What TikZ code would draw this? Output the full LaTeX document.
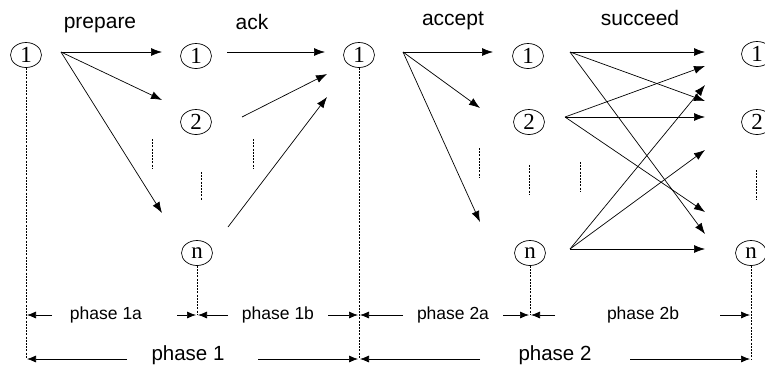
\documentclass[tikz,border=0pt]{standalone}
\usepackage{fontspec}
\setmainfont{Liberation Serif}
\newfontfamily\lsans{Liberation Sans}
\usetikzlibrary{arrows.meta,shapes.geometric}
\begin{document}
\begin{tikzpicture}[x=1pt,y=-1pt,
  proc/.style={ellipse,draw,line width=0.7pt,minimum width=31pt,minimum height=25pt,inner sep=0pt,font=\fontsize{23}{23}\selectfont},
  msg/.style={line width=0.7pt,-{Latex[length=11pt,width=8pt]}},
  dim/.style={line width=0.7pt,-{Latex[length=9pt,width=7pt]}},
  vdash/.style={line width=0.6pt,dash pattern=on 2pt off 1.2pt},
  lab/.style={font=\lsans\fontsize{21}{21}\selectfont,anchor=base,inner sep=0pt},
  dlab/.style={font=\lsans\fontsize{17.5}{17.5}\selectfont,anchor=base,inner sep=0pt},
  plab/.style={font=\lsans\fontsize{20.5}{20.5}\selectfont,anchor=base,inner sep=0pt}]
\useasboundingbox (0,0) rectangle (765,365);

% process circles
\node[proc] (L1) at (26,55) {1};
\node[proc] (B1) at (196,56) {1};
\node[proc] (B2) at (196,122) {2};
\node[proc] (Bn) at (197,253) {n};
\node[proc] (M1) at (359,55) {1};
\node[proc] (D1) at (528,56) {1};
\node[proc] (D2) at (529,122) {2};
\node[proc] (Dn) at (530,253) {n};
\node[proc] (E1) at (757,54) {1};
\node[proc] (E2) at (757,122) {2};
\node[proc] (En) at (751,253) {n};

% top labels
\node[lab] (prep) at (100,28) {prepare};
\node[lab] (ack) at (252,29) {ack};
\node[lab] (acc) at (453,25) {accept};
\node[lab] (succ) at (640,25) {succeed};

% prepare
\coordinate (P0) at (61,52);
\coordinate (P1) at (162,52);
\coordinate (P2) at (162,100);
\coordinate (Pn) at (162,213);
\draw[msg] (P0) -- (P1);
\draw[msg] (P0) -- (P2);
\draw[msg] (P0) -- (Pn);

% ack
\coordinate (A1s) at (227,52);
\coordinate (A1t) at (325,52);
\coordinate (A2s) at (242,117);
\coordinate (A2t) at (327,74);
\coordinate (Ans) at (228,227);
\coordinate (Ant) at (327,97);
\draw[msg] (A1s) -- (A1t);
\draw[msg] (A2s) -- (A2t);
\draw[msg] (Ans) -- (Ant);

% accept
\coordinate (C0) at (403,52);
\coordinate (C1) at (493,52);
\coordinate (C2) at (480,108);
\coordinate (Cn) at (480,222);
\draw[msg] (C0) -- (C1);
\draw[msg] (C0) -- (C2);
\draw[msg] (C0) -- (Cn);

% succeed
\coordinate (S1) at (570,52);
\coordinate (S2) at (565,117);
\coordinate (Sn) at (570,249);
\coordinate (T52) at (705,52);
\coordinate (T67) at (705,66);
\coordinate (T85) at (705,85);
\coordinate (T101) at (705,101);
\coordinate (T117) at (705,117);
\coordinate (T150) at (705,150);
\coordinate (T212) at (705,212);
\coordinate (T233) at (705,234);
\coordinate (T249) at (705,249);
\draw[msg] (S1) -- (T52);
\draw[msg] (S1) -- (T101);
\draw[msg] (S1) -- (T233);
\draw[msg] (S2) -- (T67);
\draw[msg] (S2) -- (T117);
\draw[msg] (S2) -- (T212);
\draw[msg] (Sn) -- (T249);
\draw[msg] (Sn) -- (T85);
\draw[msg] (Sn) -- (T150);

% ellipsis dashes
\draw[vdash] (152,139) -- (152,169);
\draw[vdash] (201,172) -- (201,200);
\draw[vdash] (253,139) -- (253,169);
\draw[vdash] (479,148) -- (479,177);
\draw[vdash] (529,165) -- (529,195);
\draw[vdash] (580,162) -- (580,191);
\draw[vdash] (756,170) -- (756,199);

% vertical dashed time lines
\coordinate (L1b) at (26,359);
\coordinate (Bnb) at (197,315);
\coordinate (M1b) at (359,359);
\coordinate (Dnb) at (530,315);
\coordinate (Enb) at (751,359);
\draw[vdash] (L1) -- (L1b);
\draw[vdash] (Bn) -- (Bnb);
\draw[vdash] (M1) -- (M1b);
\draw[vdash] (Dn) -- (Dnb);
\draw[vdash] (En) -- (Enb);

% phase labels
\node[dlab] (ph1a) at (106,319) {phase 1a};
\node[dlab] (ph1b) at (278,319) {phase 1b};
\node[dlab] (ph2a) at (453,319) {phase 2a};
\node[dlab] (ph2b) at (643,319) {phase 2b};
\node[plab] (ph1) at (188,360) {phase 1};
\node[plab] (ph2) at (555,360) {phase 2};

% dimension arrows
\coordinate (a1l) at (52,315);   \coordinate (a1lt) at (27,315);
\coordinate (a1r) at (177,315);  \coordinate (a1rt) at (196,315);
\coordinate (b1l) at (228,315);  \coordinate (b1lt) at (198,315);
\coordinate (b1r) at (328,315);  \coordinate (b1rt) at (358,315);
\coordinate (a2l) at (403,315);  \coordinate (a2lt) at (360,315);
\coordinate (a2r) at (503,315);  \coordinate (a2rt) at (529,315);
\coordinate (b2l) at (555,315);  \coordinate (b2lt) at (531,315);
\coordinate (b2r) at (720,315);  \coordinate (b2rt) at (750,315);
\coordinate (p1l) at (127,359);  \coordinate (p1lt) at (27,359);
\coordinate (p1r) at (258,359);  \coordinate (p1rt) at (358,359);
\coordinate (p2l) at (480,359);  \coordinate (p2lt) at (360,359);
\coordinate (p2r) at (630,359);  \coordinate (p2rt) at (750,359);
\draw[dim] (a1l) -- (a1lt);
\draw[dim] (a1r) -- (a1rt);
\draw[dim] (b1l) -- (b1lt);
\draw[dim] (b1r) -- (b1rt);
\draw[dim] (a2l) -- (a2lt);
\draw[dim] (a2r) -- (a2rt);
\draw[dim] (b2l) -- (b2lt);
\draw[dim] (b2r) -- (b2rt);
\draw[dim] (p1l) -- (p1lt);
\draw[dim] (p1r) -- (p1rt);
\draw[dim] (p2l) -- (p2lt);
\draw[dim] (p2r) -- (p2rt);
\end{tikzpicture}
\end{document}
